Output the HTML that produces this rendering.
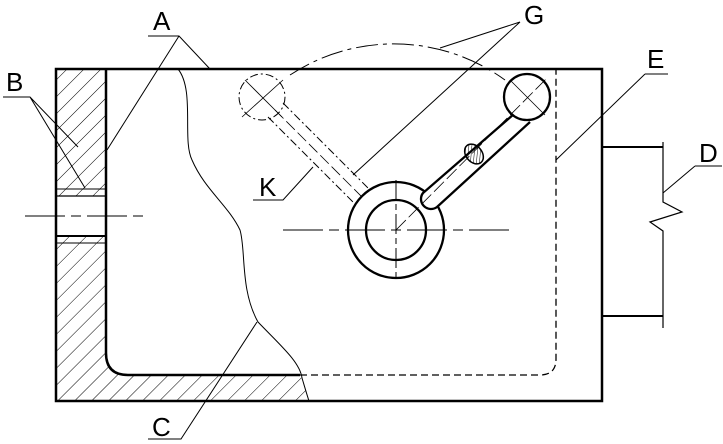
<!DOCTYPE html><html><head><style>html,body{margin:0;padding:0;background:#fff}svg{display:block}text{font-family:"Liberation Sans",sans-serif;font-size:26px;fill:#000}</style></head><body>
<svg width="723" height="444" viewBox="0 0 723 444" xmlns="http://www.w3.org/2000/svg">
<defs>
<pattern id="h" patternUnits="userSpaceOnUse" width="12" height="12" patternTransform="rotate(45)"><line x1="0" y1="0" x2="0" y2="12" stroke="#000" stroke-width="1"/></pattern>
<pattern id="h2" patternUnits="userSpaceOnUse" width="3" height="3" patternTransform="rotate(45)"><line x1="0" y1="0" x2="0" y2="3" stroke="#000" stroke-width="1"/></pattern>
<clipPath id="cp"><path d="M56 69 H106 V353 Q106 375 128 375 H300 Q306 388 309 401 H56 Z"/></clipPath>
</defs>
<g clip-path="url(#cp)">
<rect x="56" y="69" width="260" height="340" fill="url(#h)"/>
<rect x="56" y="196" width="50" height="40" fill="#fff"/>
</g>
<g fill="none" stroke="#000">
<rect x="56" y="69" width="546" height="332" stroke-width="2.5"/>
<path d="M106 69 V353 Q106 375 128 375 H300" stroke-width="2.5"/>
<path d="M300 375 H540 Q556 375 556 359 V69" stroke-width="1.3" stroke-dasharray="7,4"/>
<line x1="56" y1="189" x2="106" y2="189" stroke-width="1"/>
<line x1="56" y1="196" x2="106" y2="196" stroke-width="1.2"/>
<line x1="56" y1="236" x2="106" y2="236" stroke-width="2"/>
<line x1="56" y1="243" x2="106" y2="243" stroke-width="1"/>
<line x1="25" y1="216" x2="148" y2="216" stroke-width="1" stroke-dasharray="40,6,10,6"/>
<path d="M178 69 C195 90 182 140 192 160 C205 190 228 205 240 230 C246 250 240 290 258 322 C280 345 300 362 302 378 C305 388 307 395 309 401" stroke-width="1"/>
<path d="M290 75 A189 189 0 0 1 505 80" stroke-width="1" stroke-dasharray="22,5,4,5"/>
<circle cx="262" cy="97" r="23" stroke-width="1" stroke-dasharray="8,3,2,3"/>
<line x1="268" y1="117" x2="358" y2="207" stroke-width="1" stroke-dasharray="8,3,2,3"/>
<line x1="283" y1="103" x2="373" y2="193" stroke-width="1" stroke-dasharray="8,3,2,3"/>
<line x1="245" y1="80" x2="282" y2="117" stroke-width="0.8"/>
<line x1="242" y1="117" x2="283" y2="80" stroke-width="0.8"/>
<line x1="275" y1="110" x2="395" y2="230" stroke-width="0.8" stroke-dasharray="12,4"/>
<path d="M373 193 Q385 200 374 208 Q366 212 358 207" stroke-width="1" stroke-dasharray="4,3"/>
<circle cx="396" cy="230" r="48" stroke-width="2.3" fill="#fff"/>
<circle cx="396" cy="230" r="30" stroke-width="2.3"/>
<line x1="283" y1="230" x2="513" y2="230" stroke-width="1" stroke-dasharray="40,6,10,6"/>
<line x1="396" y1="180" x2="396" y2="280" stroke-width="1" stroke-dasharray="20,4,6,4"/>
<path d="M514 114 L423 193 A10 10 0 0 0 437 207 L530 122" stroke-width="2.3" fill="#fff"/>
<circle cx="527" cy="97" r="23" stroke-width="2.3" fill="#fff"/>
<line x1="396" y1="230" x2="548" y2="77" stroke-width="0.8" stroke-dasharray="14,4"/>
<line x1="510" y1="80" x2="545" y2="115" stroke-width="0.8"/>
<ellipse cx="474" cy="154" rx="8" ry="11" transform="rotate(-40 474 154)" stroke-width="1.5" fill="url(#h2)"/>
<line x1="602" y1="147" x2="663" y2="147" stroke-width="2"/>
<line x1="602" y1="316" x2="663" y2="316" stroke-width="2"/>
<path d="M663 142 V202 L682 212 L650 222 L663 231 V328" stroke-width="1.2"/>
<g stroke-width="1">
<path d="M148 36 H179 L210 69 M179 36 L107 150"/>
<path d="M3 97 H30 L78 147 M30 97 L85 188"/>
<path d="M520 22 L440 48 M520 22 L353 175"/>
<path d="M645 74 H668 M645 74 L556 160"/>
<path d="M695 166 H722 M695 166 L663 193"/>
<path d="M253 200 H283 L313 167"/>
<path d="M148 439 H181 L257 322"/>
</g>
</g>
<text x="153" y="30">A</text>
<text x="6" y="91">B</text>
<text x="524" y="24">G</text>
<text x="647" y="68">E</text>
<text x="699" y="162">D</text>
<text x="259" y="196">K</text>
<text x="152" y="436">C</text>
</svg>
</body></html>
